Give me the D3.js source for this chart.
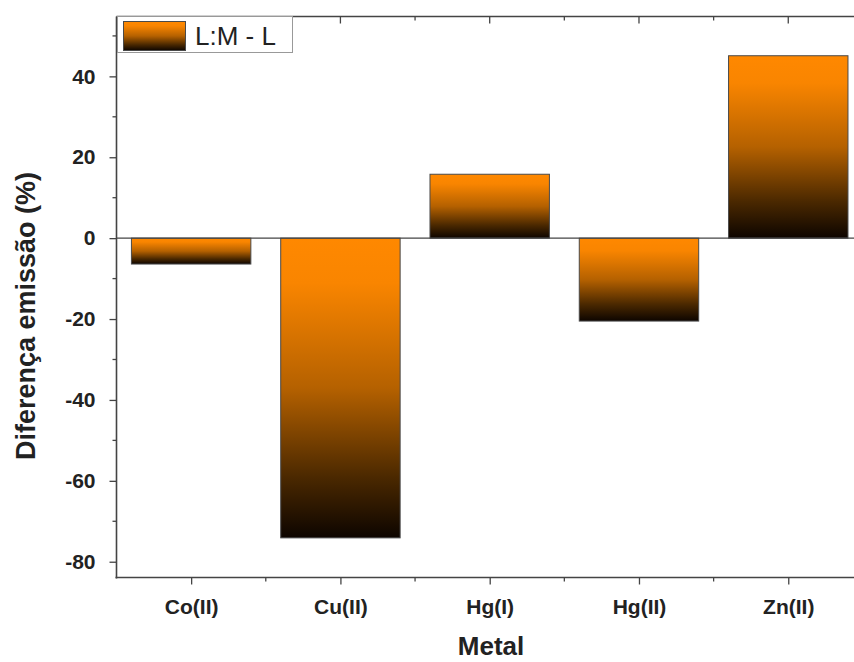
<!DOCTYPE html>
<html><head><meta charset="utf-8">
<script src="https://cdn.jsdelivr.net/npm/d3@7"></script>
<style>body{margin:0;background:#fff}svg{display:block}</style>
</head><body>
<script>
const categories = ["Co(II)", "Cu(II)", "Hg(I)", "Hg(II)", "Zn(II)"];
const values = [-6.4, -74.1, 15.8, -20.5, 45.1];
const yTicks = [-80, -60, -40, -20, 0, 20, 40];
const seriesName = "L:M - L";

(function () {
const W = 854, H = 662;
const pLeft = 116.5, pTop = 16.5, pBottom = 577.5;
const svg = d3.select("body").append("svg").attr("width", W).attr("height", H);
const font = "'Liberation Sans', Arial, sans-serif";

const x = d3.scaleLinear().domain([0.5, 5.5]).range([pLeft, 862.9]);
const y = d3.scaleLinear().domain([-83.9, 54.8]).range([pBottom, pTop]);

const defs = svg.append("defs");
const g = defs.append("linearGradient").attr("id", "grad").attr("x1", 0).attr("y1", 0).attr("x2", 0).attr("y2", 1);
[[0, "#ff8800"], [0.15, "#f98500"], [0.5, "#b56100"], [0.8, "#4a2800"], [1, "#0d0500"]]
  .forEach(s => g.append("stop").attr("offset", s[0]).attr("stop-color", s[1]));

const bw = 0.8;
svg.selectAll("rect.bar").data(values).enter().append("rect")
  .attr("class", "bar")
  .attr("x", (d, i) => x(i + 1 - bw / 2))
  .attr("width", (d, i) => x(i + 1 + bw / 2) - x(i + 1 - bw / 2))
  .attr("y", d => y(Math.max(0, d)))
  .attr("height", d => Math.abs(y(d) - y(0)))
  .attr("fill", "url(#grad)")
  .attr("stroke", "#4a4a4a").attr("stroke-width", 1);

svg.append("line").attr("x1", pLeft).attr("x2", W).attr("y1", y(0)).attr("y2", y(0))
  .attr("stroke", "#444").attr("stroke-width", 1.3);

const axisColor = "#444";
const yAxis = svg.append("g").attr("transform", `translate(${pLeft},0)`)
  .call(d3.axisLeft(y).tickValues(yTicks).tickSize(7).tickPadding(14).tickFormat(d => String(d)));
yAxis.select(".domain").remove();
svg.append("line").attr("x1", pLeft).attr("x2", pLeft).attr("y1", pTop).attr("y2", pBottom + 1)
  .attr("stroke", axisColor).attr("stroke-width", 1.6);
const yMinor = d3.range(-70, 55, 20);
svg.append("g").selectAll("line").data(yMinor).enter().append("line")
  .attr("x1", pLeft - 4).attr("x2", pLeft).attr("y1", d => y(d)).attr("y2", d => y(d))
  .attr("stroke", axisColor).attr("stroke-width", 1.3);
yAxis.selectAll(".tick line").attr("stroke", axisColor).attr("stroke-width", 1.3);
yAxis.selectAll(".tick text").attr("font-family", font).attr("font-weight", "bold")
  .attr("font-size", 21).attr("fill", "#222");

const xAxis = svg.append("g").attr("transform", `translate(0,${pBottom})`)
  .call(d3.axisBottom(x).tickValues([1, 2, 3, 4, 5]).tickSize(7).tickPadding(15)
    .tickFormat((d, i) => categories[i]));
xAxis.select(".domain").remove();
svg.append("line").attr("x1", pLeft - 1).attr("x2", W).attr("y1", pBottom).attr("y2", pBottom)
  .attr("stroke", axisColor).attr("stroke-width", 1.6);
xAxis.selectAll(".tick line").attr("stroke", axisColor).attr("stroke-width", 1.3);
xAxis.selectAll(".tick text").attr("font-family", font).attr("font-weight", "bold")
  .attr("font-size", 21).attr("fill", "#222");
const xMinor = [1.5, 2.5, 3.5, 4.5];
svg.append("g").selectAll("line").data(xMinor).enter().append("line")
  .attr("x1", d => x(d)).attr("x2", d => x(d)).attr("y1", pBottom).attr("y2", pBottom + 4)
  .attr("stroke", axisColor).attr("stroke-width", 1.3);

svg.append("line").attr("x1", pLeft).attr("x2", W).attr("y1", pTop).attr("y2", pTop)
  .attr("stroke", axisColor).attr("stroke-width", 1.6);
svg.append("g").selectAll("line").data([1, 2, 3, 4, 5]).enter().append("line")
  .attr("x1", d => x(d)).attr("x2", d => x(d)).attr("y1", pTop).attr("y2", pTop + 7)
  .attr("stroke", axisColor).attr("stroke-width", 1.3);
svg.append("g").selectAll("line").data(xMinor).enter().append("line")
  .attr("x1", d => x(d)).attr("x2", d => x(d)).attr("y1", pTop).attr("y2", pTop + 4)
  .attr("stroke", axisColor).attr("stroke-width", 1.3);

svg.append("text").attr("x", 491).attr("y", 655).attr("text-anchor", "middle")
  .attr("font-family", font).attr("font-weight", "bold").attr("font-size", 26).attr("fill", "#222")
  .text("Metal");
svg.append("text").attr("transform", `translate(35,316) rotate(-90)`).attr("text-anchor", "middle")
  .attr("font-family", font).attr("font-weight", "bold").attr("font-size", 27).attr("fill", "#222")
  .text("Diferença emissão (%)");

const lg = svg.append("g");
lg.append("rect").attr("x", 117.5).attr("y", 16.5).attr("width", 175).attr("height", 36)
  .attr("fill", "#fff").attr("stroke", "#999").attr("stroke-width", 1);
lg.append("rect").attr("x", 123.5).attr("y", 21.5).attr("width", 62).attr("height", 29)
  .attr("fill", "url(#grad)").attr("stroke", "#4a4a4a").attr("stroke-width", 1);
lg.append("text").attr("x", 195).attr("y", 45).attr("font-family", font).attr("font-size", 26)
  .attr("fill", "#222").text(seriesName);
})();
</script>
</body></html>
